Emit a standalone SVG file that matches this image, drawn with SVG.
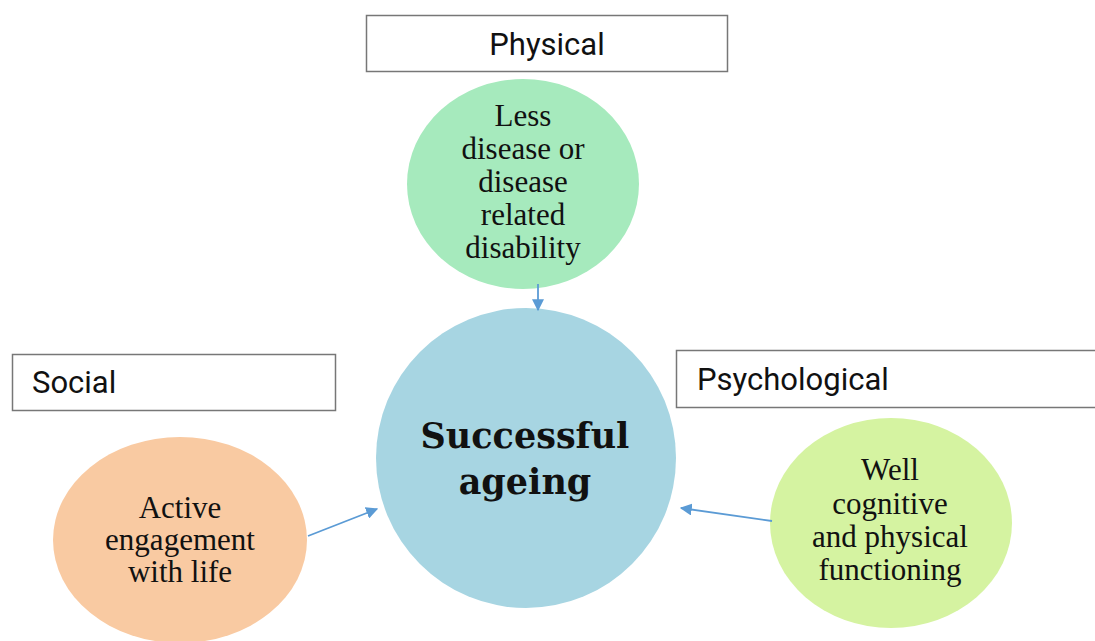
<svg xmlns="http://www.w3.org/2000/svg" width="1095" height="641" viewBox="0 0 1095 641">
<style>
.box{fill:#fff;stroke:#777;stroke-width:1.5}
.lbl{font-family:Roboto,"Liberation Sans",sans-serif;font-size:31px;fill:#111}
.body{font-family:"Liberation Serif","Times New Roman",serif;font-size:31px;fill:#111;text-anchor:middle}
.big{font-family:"DejaVu Serif","Liberation Serif",serif;font-weight:bold;font-size:35px;fill:#111;text-anchor:middle}
.conn{stroke:#5b9bd5;stroke-width:1.8;fill:none}
</style>
<defs>
<marker id="ah" viewBox="0 0 10 10" refX="9" refY="5" markerWidth="12" markerHeight="12" markerUnits="userSpaceOnUse" orient="auto">
<path d="M0,0 L10,5 L0,10 z" fill="#5b9bd5"/>
</marker>
</defs>
<rect width="1095" height="641" fill="#fff"/>
<g id="physical-label">
<rect class="box" x="366.5" y="15.5" width="361" height="56"/>
<text class="lbl" x="547" y="55" text-anchor="middle">Physical</text>
</g>
<g id="social-label">
<rect class="box" x="12.5" y="354.5" width="323" height="56"/>
<text class="lbl" x="32" y="393">Social</text>
</g>
<g id="psychological-label">
<rect class="box" x="676.5" y="350.5" width="420" height="57"/>
<text class="lbl" x="697" y="390">Psychological</text>
</g>
<g id="physical-node">
<ellipse cx="523" cy="184" rx="116" ry="105" fill="#a6eabd"/>
<text class="body" x="523" y="126">Less</text>
<text class="body" x="523" y="159">disease or</text>
<text class="body" x="523" y="192">disease</text>
<text class="body" x="523" y="225">related</text>
<text class="body" x="523" y="258">disability</text>
</g>
<g id="successful-ageing">
<circle cx="526" cy="458" r="150" fill="#a7d5e2"/>
<text class="big" x="525" y="448">Successful</text>
<text class="big" x="525" y="494">ageing</text>
</g>
<g id="social-node">
<ellipse cx="180" cy="540" rx="127" ry="103" fill="#f9caa2"/>
<text class="body" x="180" y="518">Active</text>
<text class="body" x="180" y="550">engagement</text>
<text class="body" x="180" y="582">with life</text>
</g>
<g id="psychological-node">
<ellipse cx="891" cy="523" rx="121" ry="105" fill="#d5f3a1"/>
<text class="body" x="890" y="480">Well</text>
<text class="body" x="890" y="514">cognitive</text>
<text class="body" x="890" y="547">and physical</text>
<text class="body" x="890" y="580">functioning</text>
</g>
<g id="connectors">
<line class="conn" x1="538" y1="284" x2="538" y2="310" marker-end="url(#ah)"/>
<line class="conn" x1="308" y1="536" x2="377" y2="509" marker-end="url(#ah)"/>
<line class="conn" x1="772" y1="521" x2="681" y2="508" marker-end="url(#ah)"/>
</g>
</svg>
